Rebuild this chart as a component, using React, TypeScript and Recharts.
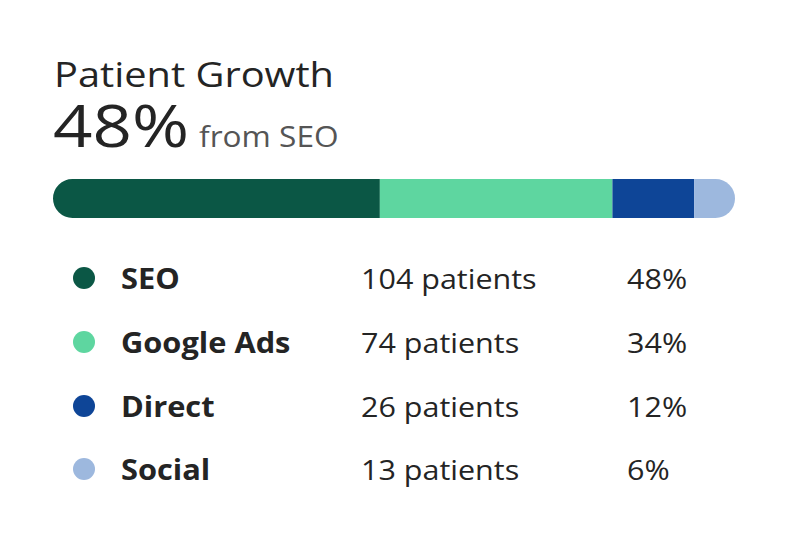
import React from 'react';
import { BarChart, Bar, XAxis, YAxis } from 'recharts';

const channels = ['SEO', 'Google Ads', 'Direct', 'Social'];
const patients = [104, 74, 26, 13];
const percents = ['48%', '34%', '12%', '6%'];
const colors = ['#0B5745', '#5ED6A0', '#0E4597', '#9DB8DE'];

const total = patients.reduce((a, b) => a + b, 0);
const row: Record<string, number | string> = { name: 'patients' };
channels.forEach((c, i) => { row[c] = patients[i]; });
const data = [row];

const FONT = '"Open Sans", sans-serif';

function T({ x, y, sx, size, weight = 400, fill = '#242424', children }: any) {
  return (
    <text
      transform={`translate(${x},${y}) scale(${sx},1)`}
      fontFamily={FONT}
      fontSize={size}
      fontWeight={weight}
      fill={fill}
    >
      {children}
    </text>
  );
}

export default function App() {
  const rowY = [289, 353, 417, 480];
  return (
    <div style={{ position: 'absolute', left: 0, top: 0, width: 800, height: 545, background: '#fff', overflow: 'hidden' }}>
      <svg width={800} height={545} style={{ position: 'absolute', left: 0, top: 0 }}>
        <T x={54} y={87} sx={1.17} size={34}>Patient Growth</T>
        <T x={53} y={147} sx={1.19} size={58}>{percents[0]}</T>
        <T x={199} y={147} sx={1.09} size={29} fill="#555">from {channels[0]}</T>
        {channels.map((c, i) => (
          <g key={c}>
            <circle cx={84} cy={rowY[i] - 11} r={11} fill={colors[i]} />
            <T x={121} y={rowY[i]} sx={1.1} size={28} weight={700}>{c}</T>
            <T x={361} y={rowY[i]} sx={1.13} size={27}>{patients[i]} patients</T>
            <T x={627} y={rowY[i]} sx={1.13} size={27}>{percents[i]}</T>
          </g>
        ))}
      </svg>
      <div style={{ position: 'absolute', left: 53, top: 179 }}>
        <BarChart width={682} height={39} data={data} layout="vertical" margin={{ top: 0, right: 0, bottom: 0, left: 0 }} barCategoryGap={0}>
          <XAxis type="number" hide domain={[0, total]} />
          <YAxis type="category" dataKey="name" hide />
          {channels.map((c, i) => (
            <Bar
              key={c}
              dataKey={c}
              stackId="a"
              fill={colors[i]}
              isAnimationActive={false}
              radius={i === 0 ? [20, 0, 0, 20] : i === channels.length - 1 ? [0, 20, 20, 0] : 0}
            />
          ))}
        </BarChart>
      </div>
    </div>
  );
}
